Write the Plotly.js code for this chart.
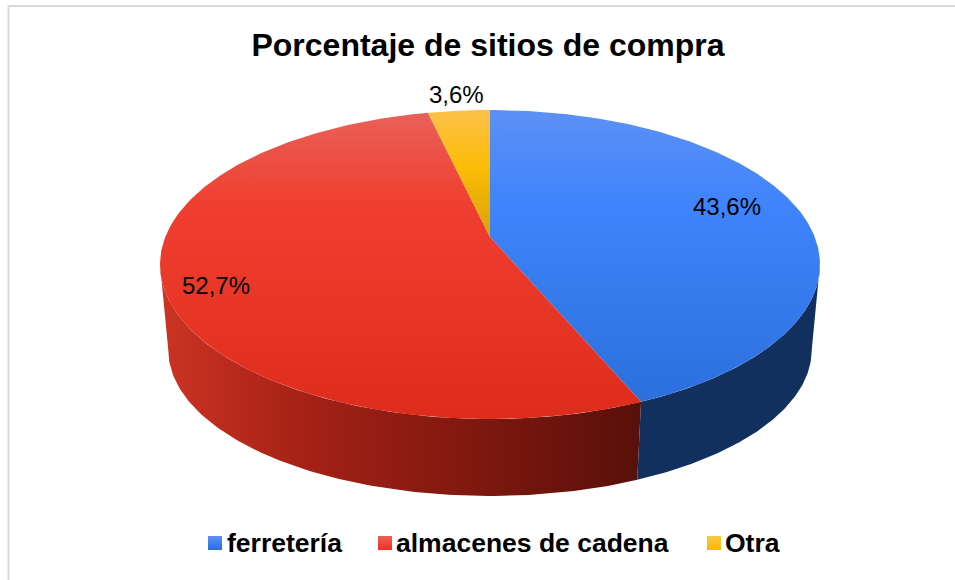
<!DOCTYPE html>
<html><head><meta charset="utf-8">
<script src="https://cdn.plot.ly/plotly-3.0.1.min.js"></script>
<style>html,body{margin:0;padding:0;background:#fff}#c{width:955px;height:580px}</style>
</head><body><div id="c"></div>
<script>
const categories = ['ferretería', 'almacenes de cadena', 'Otra'];
const percents = [43.6, 52.7, 3.6];
const percentLabels = ['43,6%', '52,7%', '3,6%'];
const chartTitle = 'Porcentaje de sitios de compra';

// Appearance of each slice
const topColors = [
  [[0,'#5d90f6'],[0.3,'#3f84fb'],[1,'#2a6edb']],
  [[0,'#e8625a'],[0.3,'#f03f30'],[1,'#de2c1c']],
  [[0,'#fdc04a'],[0.45,'#fbbc05'],[1,'#d9a20c']]
];
const topGradientEnd = [419, 419, 237];
const wallColors = [
  [[0,'#12305e'],[1,'#12305e']],
  [[0,'#cc3423'],[0.3,'#a52116'],[0.7,'#7a170e'],[1,'#58100a']],
  [[0,'#12305e'],[1,'#12305e']]
];
const swatchColors = [['#5d90f6','#2a6edb'],['#ee5f58','#ee3020'],['#fdc548','#f8b800']];
const labelAt = [[727,206],[216,285],[456,94]];
const legendSwatchX = [215, 385, 714];
const legendTextX = [227, 396, 725];

// Perspective projection of the disc onto the pixel-scaled axes
const cx = 490, k = 0.178, radius = 324.7, depth = 149.6;
function project(a, level) {
  const u = Math.sin(a), v = Math.cos(a), w = 1 + k * v;
  return level === 0
    ? [cx + radius * u / w, 237 - depth * v / w]
    : [cx + 0.975 * radius * u / w, 324 - 0.945 * depth * v / w];
}
const total = percents.reduce((s, p) => s + p, 0);
const edgeAngle = Math.PI - Math.acos(k);   // where the rim silhouette starts
const traces = [];
let acc = 0;
const ranges = percents.map(p => { const r = [acc, acc + p]; acc += p; return r.map(x => x / total * 2 * Math.PI); });

function arc(a0, a1, level, n) {
  const pts = [];
  for (let i = 0; i <= n; i++) pts.push(project(a0 + (a1 - a0) * i / n, level));
  return pts;
}
// Side walls (only the near part of the rim is visible)
ranges.forEach((r, i) => {
  const a0 = Math.max(r[0], edgeAngle), a1 = Math.min(r[1], 2 * Math.PI - edgeAngle);
  if (a1 <= a0) return;
  const pts = arc(a0, a1, 0, 120).concat(arc(a1, a0, 1, 120));
  traces.push({
    x: pts.map(p => p[0]), y: pts.map(p => p[1]), mode: 'lines', fill: 'toself',
    line: {width: 0, color: 'rgba(0,0,0,0)'},
    fillgradient: {type: 'horizontal', colorscale: wallColors[i]},
    hoverinfo: 'skip', showlegend: false
  });
});
// Top faces
ranges.forEach((r, i) => {
  const apex = [[cx, 237]];
  const all = apex.concat(arc(r[0], r[1], 0, 200)).concat(apex);
  traces.push({
    x: all.map(p => p[0]), y: all.map(p => p[1]), mode: 'lines', fill: 'toself', name: categories[i],
    line: {width: 0, color: 'rgba(0,0,0,0)'},
    fillgradient: {type: 'vertical', colorscale: topColors[i], start: 110, stop: topGradientEnd[i]},
    hoverinfo: 'name', showlegend: false
  });
});
// Legend row
traces.push({
  x: legendSwatchX, y: categories.map(() => 543), mode: 'markers', hoverinfo: 'skip', showlegend: false,
  marker: {symbol: 'square', size: 14, color: swatchColors.map(c => c[0]),
           gradient: {type: 'vertical', color: swatchColors.map(c => c[1])}}
});
traces.push({
  x: legendTextX, y: categories.map(() => 545), mode: 'text', text: categories, textposition: 'middle right',
  textfont: {family: 'Liberation Sans, Arial, sans-serif', size: 26.5, color: '#000', weight: 700},
  hoverinfo: 'skip', showlegend: false
});

const layout = {
  width: 955, height: 580, margin: {l: 0, r: 0, t: 0, b: 0},
  paper_bgcolor: '#fff', plot_bgcolor: '#fff', showlegend: false,
  title: {text: '<b>' + chartTitle + '</b>', x: 488/955, xanchor: 'center', y: 1 - 45/580, yanchor: 'middle',
          font: {family: 'Liberation Sans, Arial, sans-serif', size: 32, color: '#000'}},
  xaxis: {range: [0, 955], visible: false, fixedrange: true},
  yaxis: {range: [580, 0], visible: false, fixedrange: true},
  shapes: [{type: 'rect', x0: 8.5, y0: 6, x1: 1000, y1: 620, line: {color: '#d9d9d9', width: 2}}],
  annotations: percentLabels.map((t, i) => ({
    x: labelAt[i][0], y: labelAt[i][1], text: t, showarrow: false,
    font: {family: 'Liberation Sans, Arial, sans-serif', size: 24, color: '#000'}
  }))
};
Plotly.newPlot('c', traces, layout, {displayModeBar: false});
</script></body></html>
